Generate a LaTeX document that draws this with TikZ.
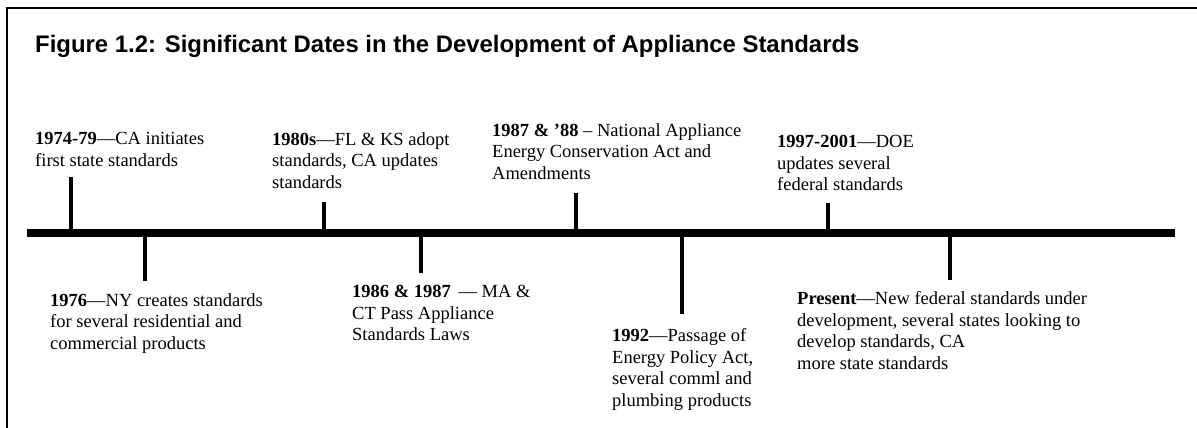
\documentclass[tikz,border=0pt]{standalone}
\usepackage{fontspec}
\setmainfont{Liberation Serif}
\newfontfamily\titlefont{Liberation Sans}
\begin{document}
\begin{tikzpicture}[x=1pt,y=-1pt,
  lbl/.style={anchor=north west, inner sep=0pt, align=left, font=\fontsize{18.5}{21.5}\selectfont},
  tickline/.style={line width=3.5pt},
  axisline/.style={line width=8pt},
  frameline/.style={line width=2pt}]
\useasboundingbox (0,0) rectangle (1197,428);
% frame
\coordinate (fb) at (7,430);
\coordinate (ftl) at (7,8);
\coordinate (ftr) at (1199,8);
\draw[frameline] (fb) -- (ftl) -- (ftr);
% title
\node[anchor=base west, inner sep=0pt, font=\titlefont\bfseries\fontsize{23.9}{28}\selectfont] (title) at (35,53)
  {Figure 1.2: Significant Dates in the Development of Appliance Standards};
% axis
\coordinate (axL) at (27,233);
\coordinate (axR) at (1175,233);
\draw[axisline] (axL) -- (axR);
% tick coordinates
\coordinate (a1) at (71,233);  \coordinate (e1) at (71,177);
\coordinate (a2) at (145,233); \coordinate (e2) at (145,281);
\coordinate (a3) at (324,233); \coordinate (e3) at (324,202);
\coordinate (a4) at (421,233); \coordinate (e4) at (421,273);
\coordinate (a5) at (576,233); \coordinate (e5) at (576,193);
\coordinate (a6) at (682,233); \coordinate (e6) at (682,314);
\coordinate (a7) at (828,233); \coordinate (e7) at (828,203);
\coordinate (a8) at (950,233); \coordinate (e8) at (950,280);
\foreach \i in {1,...,8} { \draw[tickline] (a\i) -- (e\i); }
% labels
\node[lbl] (l1) at (35,132.3) {\textbf{1974-79}—CA initiates\\first state standards};
\node[lbl] (l2) at (272,132.3) {\textbf{1980s}—FL \& KS adopt\\standards, CA updates\\standards};
\node[lbl] (l3) at (492,123.3) {\textbf{1987 \& ’88} – National Appliance\\Energy Conservation Act and\\Amendments};
\node[lbl] (l4) at (777,135.3) {\textbf{1997-2001}—DOE\\updates several\\federal standards};
\node[lbl] (l5) at (50,293.3) {\textbf{1976}—NY creates standards\\for several residential and\\commercial products};
\node[lbl] (l6) at (352,285.3) {\textbf{1986 \& 1987} \,— MA \&\\CT Pass Appliance\\Standards Laws};
\node[lbl] (l7) at (612,328.3) {\textbf{1992}—Passage of\\Energy Policy Act,\\several comml and\\plumbing products};
\node[lbl] (l8) at (797,291.3) {\textbf{Present}—New federal standards under\\development, several states looking to\\develop standards, CA\\more state standards};
\end{tikzpicture}
\end{document}
